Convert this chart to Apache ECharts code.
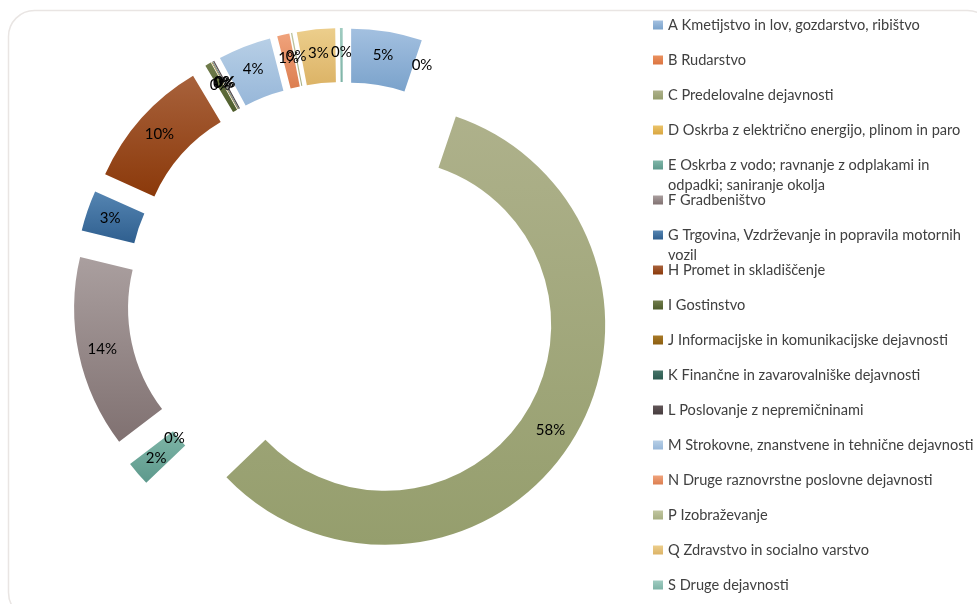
<!DOCTYPE html>
<html>
<head>
<meta charset="utf-8">
<script src="https://cdn.jsdelivr.net/npm/echarts@6/dist/echarts.min.js"></script>
<style>
html,body{margin:0;padding:0;background:#fff;}
#chart{width:977px;height:604px;}
</style>
</head>
<body>
<div id="chart"></div>
<script>
const categories = [
  'A Kmetijstvo in lov, gozdarstvo, ribištvo',
  'B Rudarstvo',
  'C Predelovalne dejavnosti',
  'D Oskrba z električno energijo, plinom in paro',
  'E Oskrba z vodo; ravnanje z odplakami in odpadki; saniranje okolja',
  'F Gradbeništvo',
  'G Trgovina, Vzdrževanje in popravila motornih vozil',
  'H Promet in skladiščenje',
  'I Gostinstvo',
  'J Informacijske in komunikacijske dejavnosti',
  'K Finančne in zavarovalniške dejavnosti',
  'L Poslovanje z nepremičninami',
  'M Strokovne, znanstvene in tehnične dejavnosti',
  'N Druge raznovrstne poslovne dejavnosti',
  'P Izobraževanje',
  'Q Zdravstvo in socialno varstvo',
  'S Druge dejavnosti'
];
const values = [5.2, 0, 57.6, 0, 1.8, 14.1, 3.0, 9.7, 0.45, 0.05, 0.05, 0.1, 3.9, 0.9, 0.1, 2.8, 0.2];
const legendLines = {
  4: ['E Oskrba z vodo; ravnanje z odplakami in', 'odpadki; saniranje okolja'],
  6: ['G Trgovina, Vzdrževanje in popravila motornih', 'vozil']
};

const colorTop = ['#a3c0e0','#ea915f','#aeb18b','#ebc46a','#7fb6a8','#aa9f9f','#5585b2','#a8623c','#717d4c','#a87a28','#467468','#625658','#b7cfe6','#f0a37c','#c1c6a0','#ecce8c','#a0ccc1'];
const colorBot = ['#7aa2cb','#dc7440','#959e6d','#d9a640','#5d998c','#807171','#2f5f8f','#8b390a','#4e5d2c','#8c5e10','#2c5a50','#463c3e','#97b7d9','#dc7e50','#a7af82','#dcb366','#7db3a6'];
const labelNudge = {3: [9, -30]};

const FONT = 'Lato, "Open Sans", sans-serif';
const chart = echarts.init(document.getElementById('chart'), null, {renderer: 'canvas'});

const data = categories.map((name, i) => ({
  name: name,
  value: values[i],
  selected: true,
  itemStyle: {
    color: new echarts.graphic.LinearGradient(0, 0, 0, 1, [
      {offset: 0, color: colorTop[i]},
      {offset: 1, color: colorBot[i]}
    ])
  }
}));

const legends = categories.map((name, i) => {
  const wrapped = legendLines[i];
  const cy = 25 + 35 * i;
  return {
    data: [name],
    orient: 'vertical',
    left: 653,
    top: cy - (wrapped ? 30 : 10),
    padding: 0,
    itemWidth: 10,
    itemHeight: 9,
    icon: 'rect',
    selectedMode: false,
    formatter: () => wrapped ? ' \n' + wrapped[0] + '\n' + wrapped[1] : name,
    textStyle: {
      fontFamily: FONT,
      fontSize: 14.6,
      color: '#404040',
      lineHeight: 20
    }
  };
});

chart.setOption({
  animation: false,
  backgroundColor: '#ffffff',
  graphic: [{
    type: 'rect',
    shape: {x: 8.5, y: 10.5, width: 985, height: 608, r: 26},
    style: {fill: 'none', stroke: '#e9e5e3', lineWidth: 1.5},
    z: -10,
    silent: true
  }],
  legend: legends,
  series: [{
    type: 'pie',
    center: [343, 298],
    radius: [166, 220],
    startAngle: 90,
    clockwise: true,
    selectedMode: 'multiple',
    selectedOffset: 50,
    avoidLabelOverlap: false,
    emphasis: {scale: false},
    label: {
      show: true,
      position: 'inside',
      fontFamily: FONT,
      fontSize: 15,
      color: '#000000',
      formatter: p => Math.round(p.percent) + '%'
    },
    labelLayout: p => {
      const n = labelNudge[p.dataIndex];
      return n ? {dx: n[0], dy: n[1]} : {};
    },
    labelLine: {show: false},
    data: data
  }]
});
</script>
</body>
</html>
